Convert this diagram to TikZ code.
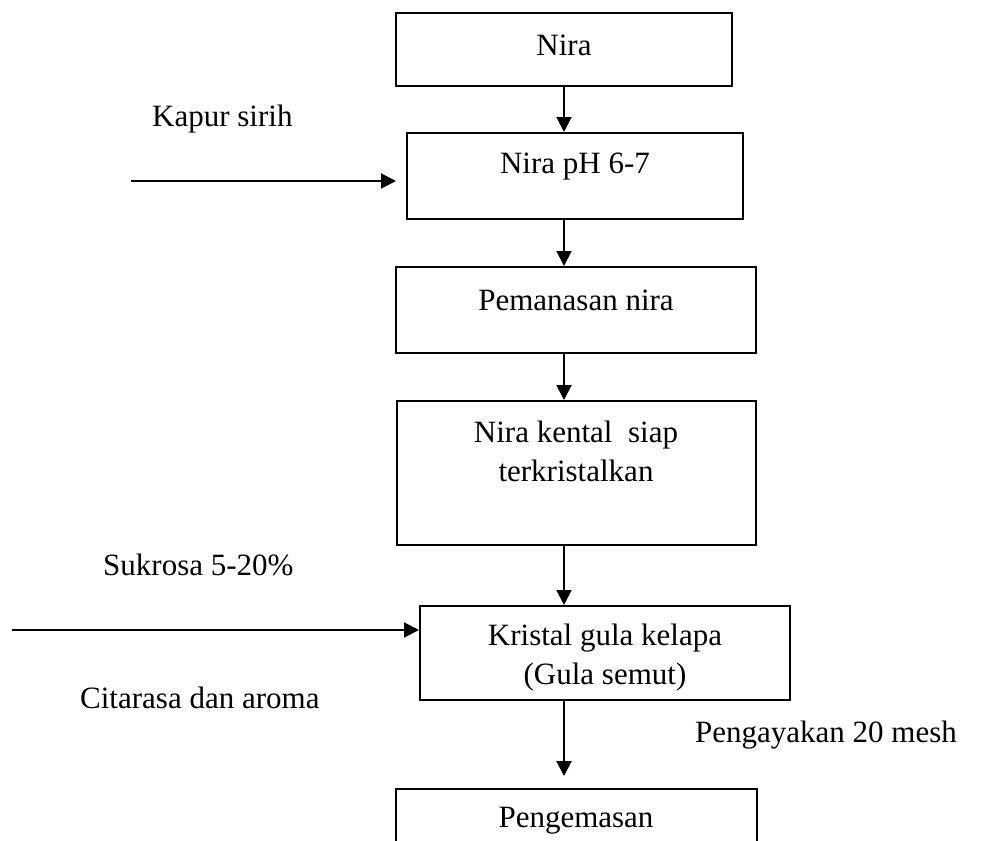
\documentclass[tikz,border=0pt]{standalone}
\usepackage{fontspec}
\setmainfont{Liberation Serif}
\usetikzlibrary{arrows.meta}
\begin{document}
\begin{tikzpicture}[x=1pt,y=-1pt,
  box/.style={draw=black, line width=2pt, rectangle, inner sep=0pt},
  lbl/.style={font=\fontsize{31}{37}\selectfont, inner sep=0pt, anchor=base},
  lblw/.style={font=\fontsize{31}{37}\selectfont, inner sep=0pt, anchor=base west},
  arr/.style={line width=2pt, -{Triangle[length=15pt,width=15pt]}}]
\useasboundingbox (0,0) rectangle (991,841);
\clip (0,0) rectangle (991,841);
% boxes
\node[box, minimum width=336pt, minimum height=73pt] (b1) at (564,49.5) {};
\node[box, minimum width=336pt, minimum height=86pt] (b2) at (575,176) {};
\node[box, minimum width=360pt, minimum height=86pt] (b3) at (576,310) {};
\node[box, minimum width=359pt, minimum height=144pt] (b4) at (576.5,473) {};
\node[box, minimum width=370pt, minimum height=94pt] (b5) at (605,653) {};
\node[box, minimum width=361pt, minimum height=91pt] (b6) at (576.5,834.5) {};
% box texts
\node[lbl] (t1) at (564,55) {Nira};
\node[lbl] (t2) at (575,173) {Nira pH 6-7};
\node[lbl] (t3) at (576,310) {Pemanasan nira};
\node[lbl] (t4a) at (576,442) {Nira kental\ \ siap};
\node[lbl] (t4b) at (576,481) {terkristalkan};
\node[lbl] (t5a) at (605,645) {Kristal gula kelapa};
\node[lbl] (t5b) at (605,684) {(Gula semut)};
\node[lbl] (t6) at (576,827) {Pengemasan};
% side labels
\node[lblw] (kapur) at (152,126) {Kapur sirih};
\node[lblw] (sukrosa) at (103,575) {Sukrosa 5-20\%};
\node[lblw] (cita) at (80,708) {Citarasa dan aroma};
\node[lblw] (ayak) at (695,742) {Pengayakan 20 mesh};
% connector coordinates
\coordinate (ax) at (564,0);
\coordinate (k0) at (131,181);
\coordinate (k1) at (396,181);
\coordinate (s0) at (12,630);
\coordinate (e6) at (564,776);
% vertical arrows
\draw[arr] (b1.south -| ax) -- (b2.north -| ax);
\draw[arr] (b2.south -| ax) -- (b3.north -| ax);
\draw[arr] (b3.south -| ax) -- (b4.north -| ax);
\draw[arr] (b4.south -| ax) -- (b5.north -| ax);
\draw[arr] (b5.south -| ax) -- (e6);
% side arrows
\draw[arr] (k0) -- (k1);
\draw[arr] (s0) -- (s0 -| b5.west);
\end{tikzpicture}
\end{document}
